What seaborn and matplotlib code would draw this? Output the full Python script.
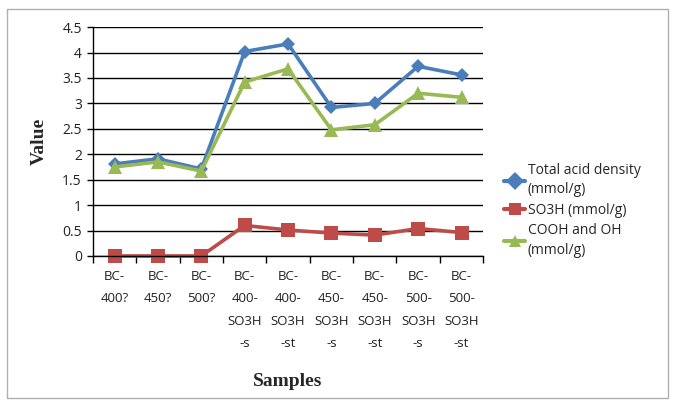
import matplotlib
matplotlib.use("Agg")
import matplotlib.pyplot as plt
import seaborn as sns
import pandas as pd
from matplotlib.patches import Rectangle

categories = ["BC-\n400?", "BC-\n450?", "BC-\n500?", "BC-\n400-\nSO3H\n-s", "BC-\n400-\nSO3H\n-st",
              "BC-\n450-\nSO3H\n-s", "BC-\n450-\nSO3H\n-st", "BC-\n500-\nSO3H\n-s", "BC-\n500-\nSO3H\n-st"]
total_acid = [1.81, 1.91, 1.71, 4.02, 4.17, 2.92, 3.00, 3.73, 3.56]
so3h = [0.0, 0.0, 0.0, 0.60, 0.51, 0.45, 0.41, 0.54, 0.46]
cooh_oh = [1.75, 1.85, 1.67, 3.42, 3.68, 2.48, 2.58, 3.20, 3.12]
series_names = ["Total acid density\n(mmol/g)", "SO3H (mmol/g)", "COOH and OH\n(mmol/g)"]
y_ticks = [0, 0.5, 1, 1.5, 2, 2.5, 3, 3.5, 4, 4.5]
y_tick_labels = ["0", "0.5", "1", "1.5", "2", "2.5", "3", "3.5", "4", "4.5"]

rows = []
for name, vals in zip(series_names, [total_acid, so3h, cooh_oh]):
    for i, v in enumerate(vals):
        rows.append({"pos": i, "value": v, "series": name})
df = pd.DataFrame(rows)

sns.set_theme(style="white")
plt.rcParams['font.family'] = ['Open Sans', 'DejaVu Sans']

fig = plt.figure(figsize=(6.73, 4.05), dpi=100)
ax = fig.add_axes([0.138, 0.368, 0.580, 0.565])

palette = {series_names[0]: "#4a7ebb", series_names[1]: "#be4b48", series_names[2]: "#98b954"}
markers = {series_names[0]: "D", series_names[1]: "s", series_names[2]: "^"}
sns.lineplot(data=df, x="pos", y="value", hue="series", style="series",
             hue_order=series_names, style_order=series_names,
             palette=palette, markers=markers, dashes=False, linewidth=2.6,
             markersize=9, markeredgewidth=0, ax=ax, legend=True)
for line, ms in zip(ax.lines[:3], [7.5, 10, 10]):
    line.set_markersize(ms)
    line.set_clip_on(False)

ax.set_xlim(-0.5, 8.5)
ax.set_ylim(0, 4.5)
ax.set_yticks(y_ticks)
ax.set_yticklabels(y_tick_labels)
ax.set_xticks(range(len(categories)))
ax.set_xticklabels(categories, linespacing=1.95)
ax.set_xticks([i + 0.5 for i in range(-1, 9)], minor=True)
ax.tick_params(axis="x", which="major", length=0, labelsize=9.5, pad=10, colors="#222222")
ax.tick_params(axis="x", which="minor", length=5, width=1, color="black", direction="out", bottom=True)
ax.tick_params(axis="y", which="major", length=4, width=1, color="black", direction="out", left=True,
               labelsize=10, pad=4, colors="#222222")
ax.grid(axis="y", color="black", linewidth=1)
ax.set_axisbelow(True)
for s in ["top", "right"]:
    ax.spines[s].set_visible(False)
for s in ["left", "bottom"]:
    ax.spines[s].set_color("black")
    ax.spines[s].set_linewidth(1)

ax.set_ylabel("Value", family=["Liberation Serif", "DejaVu Serif"], fontweight="bold", fontsize=14, labelpad=10)
ax.set_xlabel("Samples", family=["Liberation Serif", "DejaVu Serif"], fontweight="bold", fontsize=14, labelpad=16)

leg = ax.legend(loc="center left", bbox_to_anchor=(1.04, 0.2), frameon=False, fontsize=10,
                handlelength=1.5, handletextpad=0.2, labelspacing=0.4, borderaxespad=0)
for t in leg.get_texts():
    t.set_linespacing(1.4)
for h in leg.legend_handles:
    h.set_linewidth(3)

fig.patches.append(Rectangle((0.011, 0.017), 0.982, 0.96, transform=fig.transFigure,
                             fill=False, edgecolor="#b0b0b0", linewidth=1))

fig.savefig("out.png", dpi=100)
